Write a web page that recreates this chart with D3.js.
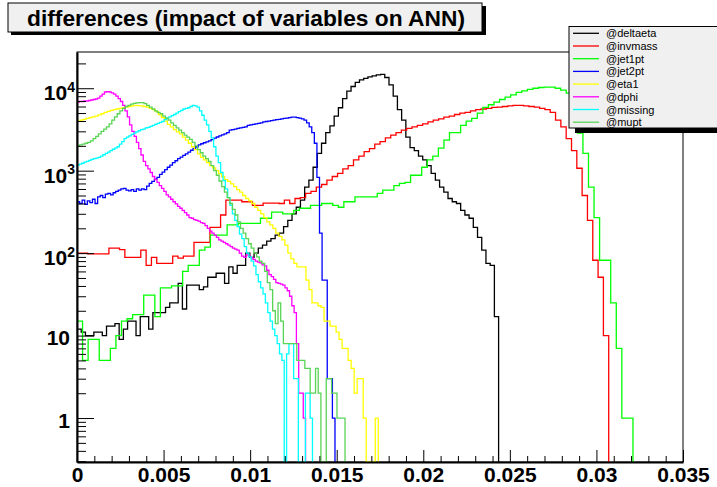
<!DOCTYPE html>
<html>
<head>
<meta charset="utf-8">
<script src="https://cdn.jsdelivr.net/npm/d3@7"></script>
<style>
  body { margin: 0; background: #fff; }
  svg { display: block; font-family: "Liberation Sans", Arial, Helvetica, sans-serif; }
</style>
</head>
<body>
<svg id="chart" width="717" height="487"></svg>
<script>
// titre et légende
const titre = "differences (impact of variables on ANN)";
const noms = ["@deltaeta", "@invmass", "@jet1pt", "@jet2pt", "@eta1", "@dphi", "@missing", "@mupt"];
const couleurs = ["#000000", "#ff0000", "#00ff00", "#0000ff", "#ffff00", "#ff00ff", "#00ffff", "#59d454"];

// fin de l'axe x de chaque histogramme (100 bins chacun)
const xmax = [0.02435, 0.03071, 0.03211, 0.0149, 0.0174, 0.0132, 0.0136, 0.01548];

// contenus des bins
const deltaeta = [12,11,10,10,11,11,10,13,13,14,
  9,12,15,15,10,17,17,12,19,19,
  19,22,25,25,43,21,41,41,41,36,
  39,51,51,57,57,43,68,57,71,71,
  100,89,100,115,125,140,150,165,175,210,
  250,300,360,440,630,770,1100,1620,2150,2900,
  3500,4600,5800,7500,9200,10500,11800,12600,13200,13700,
  14100,14500,14700,13500,11000,8000,5500,4100,2550,1900,
  1750,1500,1350,1150,930,770,630,550,460,420,
  400,330,290,265,205,155,109,75,71,17];

const invmass = [100,100,98,98,98,98,115,115,110,89,
  89,89,109,71,89,75,75,75,92,87,
  92,92,135,135,135,205,205,290,440,440,
  440,420,420,380,380,405,405,405,400,440,
  400,460,470,530,560,630,680,770,850,930,
  1050,1150,1350,1500,1700,1850,2100,2250,2500,2700,
  2900,3100,3250,3400,3550,3700,3900,4100,4250,4450,
  4600,4800,5000,5100,5300,5500,5600,5700,5850,5900,
  6000,6100,6200,6200,6100,6000,5900,5700,5500,5100,
  4100,3400,2450,1750,1070,500,250,82,51,10];

const jet1pt = [15,5,9,9,5,5,7,10,15,16,
  18,18,31,31,17,38,38,40,40,60,
  71,71,109,118,165,165,165,220,220,230,
  230,230,230,265,265,315,315,300,300,330,
  350,350,380,380,400,400,380,360,420,420,
  480,480,480,480,530,580,580,660,700,720,
  880,880,1100,1350,1500,1880,2350,2900,2900,3550,
  4000,4300,5000,5850,6300,6800,7300,7800,8300,8900,
  9300,9700,10000,10200,10300,10300,10000,9500,8700,6000,
  2850,1620,630,270,82,82,25,7,1,1];

const jet2pt = [420,400,440,390,430,410,450,400,480,500,
  470,520,530,510,540,560,580,600,610,580,
  570,590,560,600,580,600,590,650,700,740,
  790,830,900,960,1030,1100,1170,1250,1320,1400,
  1460,1530,1600,1680,1770,1860,1950,2050,2120,2180,
  2240,2300,2380,2480,2560,2640,2720,2800,2900,3100,
  3150,3200,3250,3300,3350,3400,3550,3600,3650,3700,
  3750,3800,3900,3950,4000,4050,4100,4150,4200,4250,
  4300,4350,4400,4450,4450,4400,4350,4250,4100,3800,
  3400,2900,2150,830,175,47,47,3,3,1];

const eta1 = [4000,4100,4200,4300,4400,4500,4600,4750,4900,5100,
  5250,5400,5500,5600,5700,5800,5900,6000,6100,6200,
  6150,6100,6000,5900,5700,5500,5200,4800,4400,4000,
  3650,3400,3150,2950,2800,2550,2350,2150,1950,1800,
  1600,1450,1350,1250,1150,1080,1000,920,850,780,
  740,690,640,590,550,500,460,430,400,360,
  330,300,270,240,220,200,175,160,145,125,
  100,85,75,68,68,68,47,36,25,25,
  23,22,15,15,13,13,11,9,7,7,
  5,4,2,3,3,1,0,0,0,1];

const dphi = [6800,6900,6900,7000,7000,7100,7200,7300,7400,7600,
  8000,8500,9000,9100,9000,8800,8500,8000,7500,6900,
  6200,5300,4500,3600,3000,2600,2200,1850,1550,1300,
  1150,1050,950,850,780,720,660,610,560,510,
  480,450,420,395,370,350,330,310,290,270,
  265,255,250,245,235,230,215,200,185,175,
  165,155,145,140,135,130,125,120,115,112,
  109,100,92,89,95,92,88,84,80,78,
  76,72,70,62,55,52,48,44,43,42,
  41,38,35,30,23,19,8,2,2,1];

const missing = [1170,1200,1230,1270,1300,1330,1370,1400,1420,1450,
  1500,1560,1620,1680,1750,1820,1880,1950,2100,2250,
  2450,2550,2650,2750,2850,2950,3050,3150,3200,3300,
  3350,3450,3550,3650,3750,3850,3950,4150,4350,4500,
  4650,4800,5000,5200,5400,5600,5700,5800,6000,6200,
  6100,5900,5300,4700,4100,3600,3000,2500,1950,1500,
  1250,950,760,600,470,380,300,250,210,170,
  150,120,100,90,80,70,55,45,38,32,
  25,19,15,12,10,8,6,5,0,6,
  8,8,3,3,0,0,0,2,2,1];

const mupt = [2000,2050,2100,2150,2200,2300,2450,2600,2800,3000,
  3200,3400,3700,4100,4500,4900,5300,5700,6000,6200,
  6400,6550,6650,6700,6700,6500,6200,5900,5600,5300,
  5100,4900,4600,4350,4100,3800,3550,3300,3100,2900,
  2700,2550,2400,2200,2000,1800,1650,1500,1400,1300,
  1150,1000,880,750,640,550,470,400,340,290,
  240,200,175,150,130,115,100,90,80,75,
  60,44,36,20,14,25,15,8,8,8,
  8,8,5,5,5,4,4,2,2,4,
  2,0,0,3,3,2,2,1,1,1];

const series = [deltaeta, invmass, jet1pt, jet2pt, eta1, dphi, missing, mupt];

// ticks des axes
const xMajeurs = [0, 0.005, 0.01, 0.015, 0.02, 0.025, 0.03, 0.035];
const xLabels = ["0", "0.005", "0.01", "0.015", "0.02", "0.025", "0.03", "0.035"];
const yMajeurs = [1, 10, 100, 1000, 10000];
const yExposants = ["", "", "2", "3", "4"];
const yBases = ["1", "10", "10", "10", "10"];

const svg = d3.select("#chart");
const gauche = 77, droite = 683, haut = 52, bas = 462;
const ymin = 0.293, ymax = 27500;

const x = d3.scaleLinear().domain([0, 0.035]).range([gauche, droite]);
const y = d3.scaleLog().domain([ymin, ymax]).range([bas, haut]);

svg.append("defs").append("clipPath").attr("id", "cadre")
  .append("rect").attr("x", gauche).attr("y", haut)
  .attr("width", droite - gauche).attr("height", bas - haut);

// cadre
svg.append("rect")
  .attr("x", gauche).attr("y", haut)
  .attr("width", droite - gauche).attr("height", bas - haut)
  .attr("fill", "none").attr("stroke", "#000").attr("stroke-width", 1);

// histogrammes
const ligne = d3.line()
  .x(d => x(d[0]))
  .y(d => y(Math.max(d[1], ymin)))
  .curve(d3.curveStepAfter);

const gh = svg.append("g").attr("clip-path", "url(#cadre)");
series.forEach((vals, k) => {
  const w = xmax[k] / vals.length;
  const pts = [[0, ymin]].concat(vals.map((v, i) => [i * w, v]), [[xmax[k], ymin]]);
  gh.append("path")
    .attr("d", ligne(pts))
    .attr("fill", "none")
    .attr("stroke", couleurs[k])
    .attr("stroke-width", 1.3);
});

// axe x : ticks mineurs puis majeurs
const xMineurs = d3.range(0, 36).map(i => i * 0.001).filter(v => !xMajeurs.some(m => Math.abs(m - v) < 1e-9));
svg.append("g").attr("transform", `translate(0,${bas})`)
  .call(d3.axisBottom(x).tickValues(xMineurs).tickSize(-6).tickFormat(""))
  .call(g => g.select(".domain").remove());
const gx = svg.append("g").attr("transform", `translate(0,${bas})`)
  .call(d3.axisBottom(x).tickValues(xMajeurs).tickSizeInner(-12).tickSizeOuter(0).tickFormat((d, i) => xLabels[i]));
gx.select(".domain").attr("stroke-width", 2);
gx.selectAll(".tick text")
  .attr("y", 20).attr("dy", 0)
  .attr("font-size", 21).attr("font-weight", "bold")
  .attr("font-family", "Liberation Sans, Arial, sans-serif").attr("fill", "#000");

// axe y log : ticks mineurs (2..9) et majeurs
const yMineurs = [];
for (let e = -1; e <= 4; e++) {
  for (let m = 2; m <= 9; m++) {
    const v = m * Math.pow(10, e);
    if (v > ymin && v < ymax) yMineurs.push(v);
  }
}
svg.append("g").attr("transform", `translate(${gauche},0)`)
  .call(d3.axisLeft(y).tickValues(yMineurs).tickSize(-9).tickFormat(""))
  .call(g => g.select(".domain").remove());
const gy = svg.append("g").attr("transform", `translate(${gauche},0)`)
  .call(d3.axisLeft(y).tickValues(yMajeurs).tickSizeInner(-17).tickSizeOuter(0).tickFormat(""));
gy.select(".domain").attr("stroke-width", 2);

yMajeurs.forEach((v, i) => {
  const t = svg.append("text")
    .attr("font-size", 21).attr("font-weight", "bold").attr("fill", "#000")
    .attr("text-anchor", "end");
  if (yExposants[i]) {
    t.attr("x", 75).attr("y", y(v) + 12);
    t.append("tspan").text(yBases[i]);
    t.append("tspan").attr("font-size", 14).attr("dy", -8.5).text(yExposants[i]);
  } else {
    t.attr("x", 70).attr("y", y(v) + 9.5).text(yBases[i]);
  }
});

// boîte du titre
svg.append("rect").attr("x", 11).attr("y", 6).attr("width", 475).attr("height", 29).attr("fill", "#000");
svg.append("rect").attr("x", 8).attr("y", 3).attr("width", 474).attr("height", 29)
  .attr("fill", "#f0f0f0").attr("stroke", "#000").attr("stroke-width", 1);
svg.append("text").attr("x", 27).attr("y", 26)
  .attr("font-size", 22).attr("font-weight", "bold").attr("fill", "#000")
  .attr("textLength", 438).attr("lengthAdjust", "spacingAndGlyphs")
  .text(titre);

// légende
svg.append("rect").attr("x", 575).attr("y", 32).attr("width", 150).attr("height", 101).attr("fill", "#000");
svg.append("rect").attr("x", 569).attr("y", 26.5).attr("width", 160).attr("height", 101.5)
  .attr("fill", "#f0f0f0").attr("stroke", "#000").attr("stroke-width", 1);
noms.forEach((n, i) => {
  const yy = 33.3 + i * 12.7;
  svg.append("line").attr("x1", 573).attr("x2", 599).attr("y1", yy).attr("y2", yy)
    .attr("stroke", couleurs[i]).attr("stroke-width", 1.3);
  svg.append("text").attr("x", 606).attr("y", yy + 4)
    .attr("font-size", 11).attr("fill", "#000").text(n);
});
</script>
</body>
</html>
